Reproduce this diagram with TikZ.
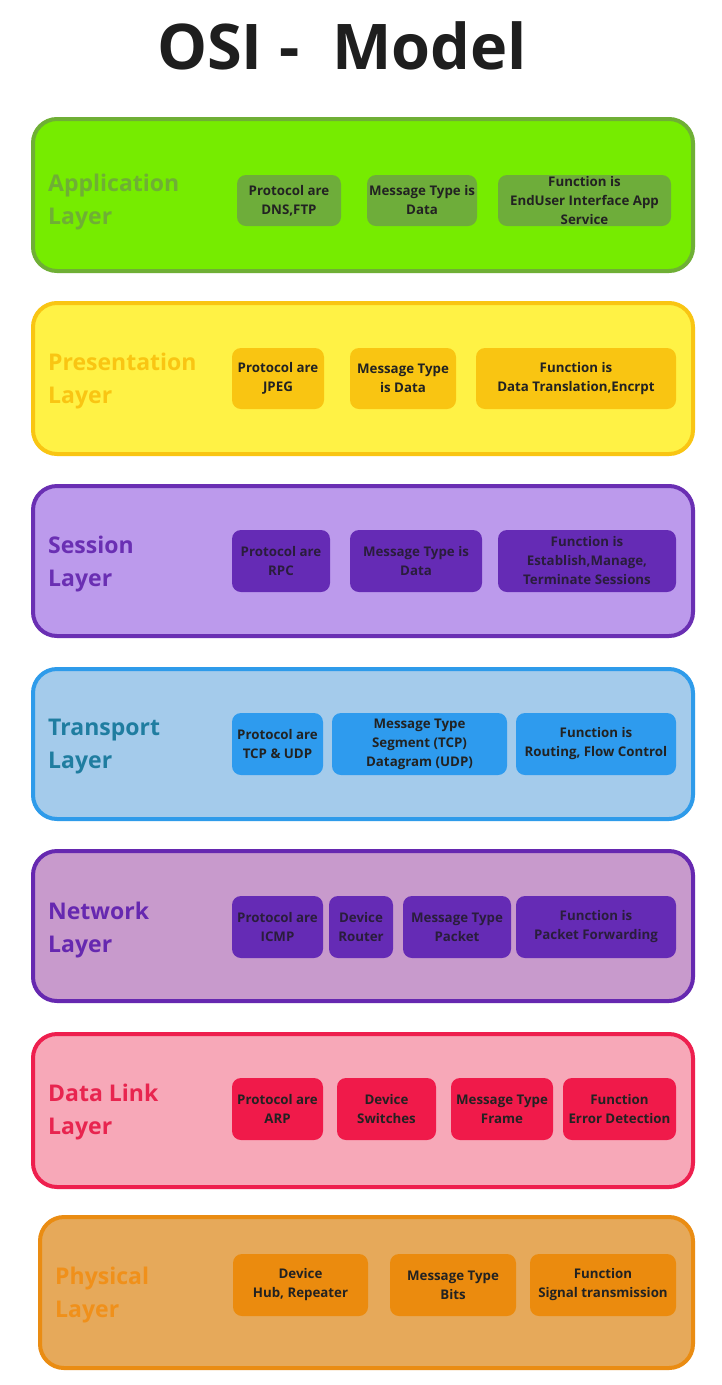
\documentclass[tikz,border=0pt]{standalone}
\usepackage{fontspec}
\setmainfont{Open Sans}
\definecolor{appF}{HTML}{76EC00}\definecolor{appB}{HTML}{6FAF35}\definecolor{appI}{HTML}{6EAD3A}
\definecolor{preF}{HTML}{FFF245}\definecolor{preB}{HTML}{F9C513}\definecolor{preI}{HTML}{F9C512}
\definecolor{sesF}{HTML}{BC9AEC}\definecolor{sesB}{HTML}{6A2FB3}\definecolor{sesI}{HTML}{652BB5}
\definecolor{traF}{HTML}{A4CBEB}\definecolor{traB}{HTML}{2E9BEA}\definecolor{traI}{HTML}{2E9BEE}\definecolor{traL}{HTML}{1F7DA0}
\definecolor{netF}{HTML}{C89ACC}\definecolor{netB}{HTML}{6628B0}\definecolor{netI}{HTML}{652BB5}
\definecolor{dlF}{HTML}{F7A8B8}\definecolor{dlB}{HTML}{EE1F4E}\definecolor{dlI}{HTML}{F01A4A}\definecolor{dlL}{HTML}{E8254F}
\definecolor{phF}{HTML}{E6A95A}\definecolor{phB}{HTML}{EA8C12}\definecolor{phI}{HTML}{EB8B0E}\definecolor{phL}{HTML}{F0901A}
\definecolor{txt}{HTML}{222222}
\definecolor{txtD}{HTML}{2A1D3C}
\definecolor{titleC}{HTML}{1E1E1E}
\newcommand\itembox[7]{%
  \pgfmathsetmacro\bw{#4-#2}\pgfmathsetmacro\bh{#5-#3}%
  \pgfmathsetmacro\cx{(#2+#4)/2}\pgfmathsetmacro\cy{(#3+#5)/2}%
  \node[item, fill=#6, minimum width=\bw pt, minimum height=\bh pt] (#1) at (\cx,\cy) {#7};}
\newcommand\layerbox[7]{%
  \pgfmathsetmacro\bw{#4-#2}\pgfmathsetmacro\bh{#5-#3}%
  \pgfmathsetmacro\cx{(#2+#4)/2}\pgfmathsetmacro\cy{(#3+#5)/2}%
  \node[layer, fill=#6, draw=#7, minimum width=\bw pt, minimum height=\bh pt] (#1) at (\cx,\cy) {};}
\begin{document}
\begin{tikzpicture}[x=1pt,y=-1pt,
  layer/.style={line width=4pt, rounded corners=24pt, inner sep=0pt},
  item/.style={rounded corners=9pt, inner sep=0pt, align=center, text=txt,
    font=\bfseries\fontsize{13.3}{19}\selectfont},
  lab/.style={anchor=west, align=left, inner sep=0pt, font=\bfseries\fontsize{23}{33}\selectfont}]
\useasboundingbox (0,0) rectangle (721,1385);
\fill[white] (0,0) rectangle (721,1385);
\node[font=\bfseries\fontsize{63}{63}\selectfont, text=titleC] (title) at (342,46) {OSI -\ \ Model};

% Application
\layerbox{app}{33}{119}{693}{271}{appF}{appB}
\node[lab, text=appB] (appL) at (48,202) {Application\\Layer};
\itembox{app1}{237}{175}{341}{226}{appI}{Protocol are\\DNS,FTP}
\itembox{app2}{367}{175}{477}{226}{appI}{Message Type is\\Data}
\itembox{app3}{498}{175}{671}{226}{appI}{Function is\\EndUser Interface App\\Service}

% Presentation
\layerbox{pre}{33}{303}{693}{454}{preF}{preB}
\node[lab, text=preB] (preL) at (48,381) {Presentation\\Layer};
\itembox{pre1}{232}{348}{324}{409}{preI}{Protocol are\\JPEG}
\itembox{pre2}{350}{348}{456}{409}{preI}{Message Type\\is Data}
\itembox{pre3}{476}{348}{676}{409}{preI}{Function is\\Data Translation,Encrpt}

% Session
\layerbox{ses}{33}{486}{693}{636}{sesF}{sesB}
\node[lab, text=sesB] (sesL) at (48,564) {Session\\Layer};
\tikzset{item/.append style={text=txtD}}
\itembox{ses1}{232}{530}{330}{592}{sesI}{Protocol are\\RPC}
\itembox{ses2}{350}{530}{482}{592}{sesI}{Message Type is\\Data}
\itembox{ses3}{498}{530}{676}{592}{sesI}{Function is\\Establish,Manage,\\Terminate Sessions}
\tikzset{item/.append style={text=txt}}

% Transport
\layerbox{tra}{33}{669}{693}{819}{traF}{traB}
\node[lab, text=traL] (traL) at (48,747) {Transport\\Layer};
\itembox{tra1}{232}{713}{323}{775}{traI}{Protocol are\\TCP \& UDP}
\itembox{tra2}{332}{713}{507}{775}{traI}{Message Type\\Segment (TCP)\\Datagram (UDP)}
\itembox{tra3}{516}{713}{676}{775}{traI}{Function is\\Routing, Flow Control}

% Network
\layerbox{net}{33}{851}{693}{1001}{netF}{netB}
\node[lab, text=netB] (netL) at (48,930) {Network\\Layer};
\tikzset{item/.append style={text=txtD}}
\itembox{net1}{232}{896}{323}{958}{netI}{Protocol are\\ICMP}
\itembox{net2}{329}{896}{393}{958}{netI}{Device\\Router}
\itembox{net3}{403}{896}{511}{958}{netI}{Message Type\\Packet}
\itembox{net4}{516}{896}{676}{958}{netI}{Function is\\Packet Forwarding}
\tikzset{item/.append style={text=txt}}

% Data Link
\layerbox{dl}{33}{1034}{693}{1187}{dlF}{dlB}
\node[lab, text=dlL] (dlL) at (48,1112) {Data Link\\Layer};
\itembox{dl1}{232}{1078}{323}{1140}{dlI}{Protocol are\\ARP}
\itembox{dl2}{337}{1078}{436}{1140}{dlI}{Device\\Switches}
\itembox{dl3}{451}{1078}{553}{1140}{dlI}{Message Type\\Frame}
\itembox{dl4}{563}{1078}{676}{1140}{dlI}{Function\\Error Detection}

% Physical
\layerbox{ph}{40}{1217}{693}{1368}{phF}{phB}
\node[lab, text=phL] (phL) at (55,1295) {Physical\\Layer};
\itembox{ph1}{233}{1254}{368}{1316}{phI}{Device\\Hub, Repeater}
\itembox{ph2}{390}{1254}{516}{1316}{phI}{Message Type\\Bits}
\itembox{ph3}{530}{1254}{676}{1316}{phI}{Function\\Signal transmission}
\end{tikzpicture}
\end{document}
